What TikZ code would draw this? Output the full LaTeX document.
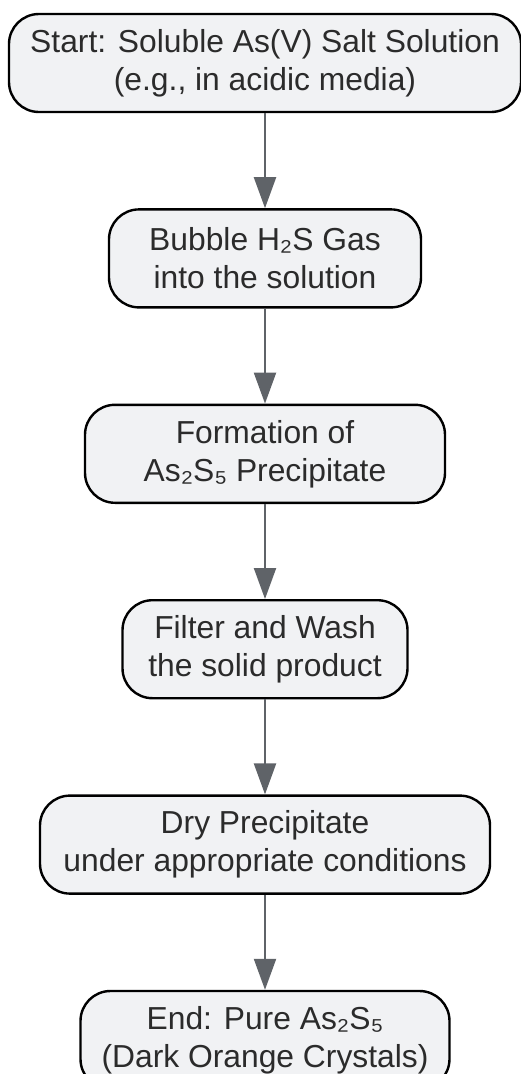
\documentclass[tikz,border=0pt]{standalone}
\usepackage{fontspec}
\setmainfont{Liberation Sans}
\usetikzlibrary{arrows.meta, positioning}
\definecolor{boxfill}{HTML}{F1F2F4}
\definecolor{boxtext}{HTML}{2B2B2B}
\definecolor{arrowgray}{HTML}{5F6368}
\begin{document}
\begin{tikzpicture}[x=1pt, y=1pt,
    stepbox/.style={rectangle, rounded corners=30pt, draw=black, line width=2.4pt, fill=boxfill, text=boxtext, align=center, minimum height=98pt, inner sep=0pt, font=\fontsize{31.8}{38}\selectfont},
    flowarrow/.style={-{Triangle[length=31pt, width=22pt]}, draw=arrowgray, line width=2.2pt},
    node distance=95pt]
    \useasboundingbox (0,0) rectangle (521,-1074);%fixes the page
    \node (start) [stepbox, minimum width=512pt] at (265,-63) {Start: Soluble As(V) Salt Solution\\(e.g., in acidic media)};%first step
    \node (bubble) [stepbox, minimum width=312pt, below=of start] {Bubble H₂S Gas\\into the solution};%gas step
    \node (form) [stepbox, minimum width=360pt, below=of bubble] {Formation of\\As₂S₅ Precipitate};%precipitate
    \node (filter) [stepbox, minimum width=285pt, below=of form] {Filter and Wash\\the solid product};%filter step
    \node (dry) [stepbox, minimum width=450pt, below=of filter] {Dry Precipitate\\under appropriate conditions};%drying
    \node (end) [stepbox, minimum width=369pt, below=of dry] {End: Pure As₂S₅\\(Dark Orange Crystals)};%last step
    % =============== arrows ====================
    \draw[flowarrow] (start) -- (bubble);
    \draw[flowarrow] (bubble) -- (form);
    \draw[flowarrow] (form) -- (filter);
    \draw[flowarrow] (filter) -- (dry);
    \draw[flowarrow] (dry) -- (end);
\end{tikzpicture}
\end{document}
